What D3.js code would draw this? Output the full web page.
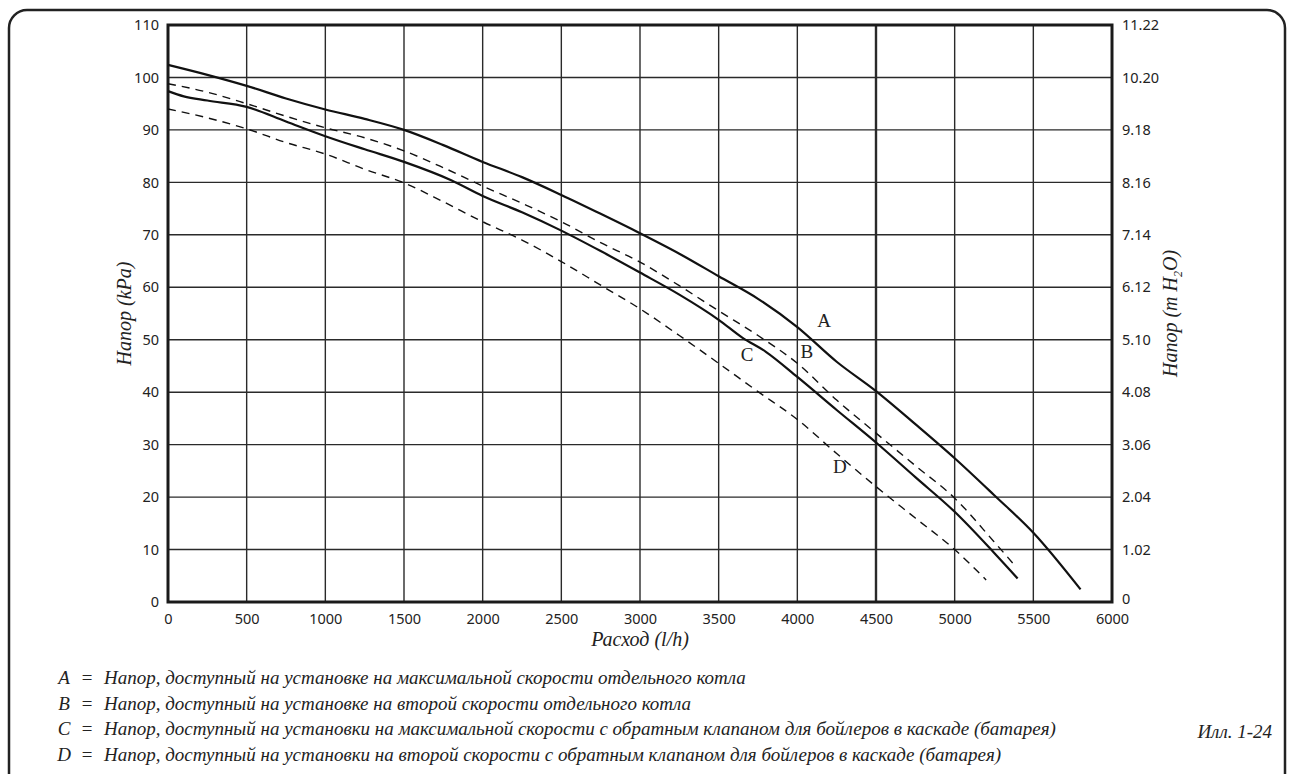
<!DOCTYPE html>
<html>
<head>
<meta charset="utf-8">
<script src="https://cdn.jsdelivr.net/npm/d3@7"></script>
<style>
  body { margin: 0; background: #fff; }
  .tick text { font-family: "Noto Sans", sans-serif; font-size: 14.5px; fill: #222; }
  .serif { font-family: "Liberation Serif", serif; font-style: italic; fill: #222; }
</style>
</head>
<body>
<div id="chart"></div>
<script>
// flow (l/h) and head (kPa)
const flowA = [0, 250, 500, 750, 1000, 1250, 1500, 1750, 2000, 2250, 2500, 2750, 3000, 3250, 3500, 3750, 4000, 4250, 4500, 4750, 5000, 5250, 5500, 5800];
const headA = [102.4, 100.5, 98.4, 96.0, 93.9, 92.1, 90.0, 87.1, 83.9, 81.0, 77.6, 74.0, 70.3, 66.4, 62.1, 57.8, 52.4, 45.8, 40.2, 33.9, 27.4, 20.4, 13.2, 2.4];

const flowB = [0, 250, 500, 750, 1000, 1250, 1500, 1750, 2000, 2250, 2500, 2750, 3000, 3250, 3500, 3750, 4000, 4250, 4500, 4750, 5000, 5250, 5390];
const headB = [98.8, 97.2, 95.0, 92.6, 90.4, 88.5, 86.0, 82.8, 79.3, 76.0, 72.5, 68.5, 64.8, 60.3, 55.5, 50.8, 45.5, 38.5, 32.2, 26.0, 19.8, 11.5, 6.7];

const flowC = [0, 100, 250, 500, 750, 1000, 1250, 1500, 1800, 2000, 2250, 2500, 2750, 3000, 3250, 3500, 3650, 3800, 4000, 4250, 4500, 4750, 5000, 5250, 5400];
const headC = [97.4, 96.4, 95.6, 94.4, 91.6, 88.8, 86.3, 83.9, 80.4, 77.4, 74.3, 70.8, 66.9, 62.8, 58.6, 53.8, 50.4, 47.7, 42.9, 36.6, 30.4, 23.8, 17.2, 9.4, 4.5];

const flowD = [0, 250, 500, 750, 1000, 1250, 1500, 1750, 2000, 2250, 2500, 2750, 3000, 3250, 3500, 3750, 4000, 4250, 4500, 4750, 5000, 5200];
const headD = [94.0, 92.3, 90.2, 87.6, 85.4, 82.5, 79.9, 76.3, 72.5, 69.0, 64.9, 60.4, 55.9, 50.8, 45.5, 40.1, 34.8, 28.3, 22.0, 16.0, 10.0, 4.2];

const xTicks = [0, 500, 1000, 1500, 2000, 2500, 3000, 3500, 4000, 4500, 5000, 5500, 6000];
const yTicks = [0, 10, 20, 30, 40, 50, 60, 70, 80, 90, 100, 110];
const yTicksRight = ["0", "1.02", "2.04", "3.06", "4.08", "5.10", "6.12", "7.14", "8.16", "9.18", "10.20", "11.22"];

const legendKeys = ["A", "B", "C", "D"];
const legendTexts = [
  "Напор, доступный на установке на максимальной скорости отдельного котла",
  "Напор, доступный на установке на второй скорости отдельного котла",
  "Напор, доступный на установки на максимальной скорости с обратным клапаном для бойлеров в каскаде (батарея)",
  "Напор, доступный на установки на второй скорости с обратным клапаном для бойлеров в каскаде (батарея)"
];

const width = 1289, height = 774;
const margin = {left: 168, right: 177, top: 25, bottom: 172};

const svg = d3.select("#chart").append("svg")
    .attr("width", width)
    .attr("height", height);

// outer frame
svg.append("rect")
    .attr("x", 9).attr("y", 10)
    .attr("width", 1276).attr("height", 800)
    .attr("rx", 18)
    .attr("fill", "none")
    .attr("stroke", "#222")
    .attr("stroke-width", 2.5);

const x = d3.scaleLinear().domain([0, 6000]).range([margin.left, width - margin.right]);
const y = d3.scaleLinear().domain([0, 110]).range([height - margin.bottom, margin.top]);

// grid
svg.append("g").selectAll("line")
    .data(xTicks.slice(1, -1))
    .enter().append("line")
    .attr("x1", d => x(d)).attr("x2", d => x(d))
    .attr("y1", y(0)).attr("y2", y(110))
    .attr("stroke", "#2a2a2a")
    .attr("stroke-width", d => d === 4500 ? 2.4 : 1.4);

svg.append("g").selectAll("line")
    .data(yTicks.slice(1, -1))
    .enter().append("line")
    .attr("x1", x(0)).attr("x2", x(6000))
    .attr("y1", d => y(d)).attr("y2", d => y(d))
    .attr("stroke", "#2a2a2a")
    .attr("stroke-width", 1.4);

// axes
const xAxis = svg.append("g")
    .attr("transform", "translate(0," + y(0) + ")")
    .call(d3.axisBottom(x).tickValues(xTicks).tickFormat(d3.format("d")).tickSize(0).tickPadding(12));
xAxis.select(".domain").remove();

const yAxis = svg.append("g")
    .attr("transform", "translate(" + x(0) + ",0)")
    .call(d3.axisLeft(y).tickValues(yTicks).tickSize(0).tickPadding(9));
yAxis.select(".domain").remove();

const yAxisR = svg.append("g")
    .attr("transform", "translate(" + x(6000) + ",0)")
    .call(d3.axisRight(y).tickValues(yTicks).tickFormat((d, i) => yTicksRight[i]).tickSize(0).tickPadding(10));
yAxisR.select(".domain").remove();
yAxisR.selectAll(".tick text").filter(d => d === 0).attr("dy", "0.1em");

// plot frame
svg.append("rect")
    .attr("x", x(0)).attr("y", y(110))
    .attr("width", x(6000) - x(0)).attr("height", y(0) - y(110))
    .attr("fill", "none")
    .attr("stroke", "#1a1a1a")
    .attr("stroke-width", 3);

// curves
const line = d3.line()
    .x(d => x(d[0]))
    .y(d => y(d[1]))
    .curve(d3.curveMonotoneX);

const series = [
  {flow: flowA, head: headA, dash: null},
  {flow: flowB, head: headB, dash: "8,6"},
  {flow: flowC, head: headC, dash: null},
  {flow: flowD, head: headD, dash: "8,6"}
];

series.forEach(function(s) {
  svg.append("path")
      .datum(s.flow.map((f, i) => [f, s.head[i]]))
      .attr("d", line)
      .attr("fill", "none")
      .attr("stroke", "#111")
      .attr("stroke-width", s.dash ? 1.4 : 2.2)
      .attr("stroke-dasharray", s.dash);
});

// curve letters
const letterPos = [[4170, 52.5], [4060, 46.5], [3680, 46], [4270, 24.5]];
svg.append("g").selectAll("text")
    .data(legendKeys)
    .enter().append("text")
    .attr("x", (d, i) => x(letterPos[i][0]))
    .attr("y", (d, i) => y(letterPos[i][1]))
    .attr("text-anchor", "middle")
    .style("font-family", "Liberation Serif, serif")
    .style("font-size", "19px")
    .style("fill", "#222")
    .text(d => d);

// axis titles
svg.append("text")
    .attr("class", "serif")
    .attr("transform", "translate(131," + y(55) + ") rotate(-90)")
    .attr("text-anchor", "middle")
    .style("font-size", "20px")
    .text("Напор (kPa)");

svg.append("text")
    .attr("class", "serif")
    .attr("x", x(3000)).attr("y", 646)
    .attr("text-anchor", "middle")
    .style("font-size", "20px")
    .text("Расход (l/h)");

const rt = svg.append("text")
    .attr("class", "serif")
    .attr("transform", "translate(1177," + y(55) + ") rotate(-90)")
    .attr("text-anchor", "middle")
    .style("font-size", "20px");
rt.append("tspan").text("Напор (m H");
rt.append("tspan").attr("dy", 5).style("font-size", "12px").text("2");
rt.append("tspan").attr("dy", -5).text("O)");

// legend
const leg = svg.append("g");
legendKeys.forEach(function(k, i) {
  const ly = 684 + i * 25.5;
  leg.append("text")
      .attr("class", "serif")
      .attr("x", 64).attr("y", ly)
      .attr("text-anchor", "middle")
      .style("font-size", "19px")
      .text(k);
  leg.append("text")
      .attr("class", "serif")
      .attr("x", 87).attr("y", ly)
      .attr("text-anchor", "middle")
      .style("font-size", "19px")
      .text("=");
  leg.append("text")
      .attr("class", "serif")
      .attr("x", 104).attr("y", ly)
      .style("font-size", "19px")
      .text(legendTexts[i]);
});

svg.append("text")
    .attr("class", "serif")
    .attr("x", 1272).attr("y", 738)
    .attr("text-anchor", "end")
    .style("font-size", "19px")
    .text("Илл. 1-24");
</script>
</body>
</html>
